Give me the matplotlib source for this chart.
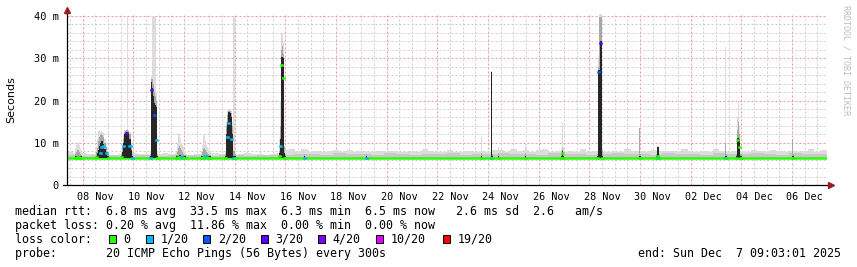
import matplotlib
matplotlib.use("Agg")
import matplotlib.pyplot as plt
from matplotlib.patches import Rectangle
from datetime import datetime, timedelta
import numpy as np

plt.rcParams['font.family'] = ['DejaVu Sans Mono']

# graph covers 30 days ending Sun Dec 7 09:03:01 2025, x values are days since start
start = datetime(2025, 11, 7, 9, 3, 1)
n_days = 30

# background smoke (ms), 6 h steps
light_base = [7.8, 7.6, 7.5, 7.4, 7.3, 7.5, 7.2, 7.2, 7.4, 7.6,
              7.5, 7.3, 7.4, 7.2, 7.3, 7.5, 7.4, 7.6, 7.3, 7.2,
              7.4, 7.3, 7.5, 7.6, 7.4, 7.3, 7.2, 7.3, 7.5, 7.4,
              7.3, 7.2, 7.4, 7.6, 8.4, 8.6, 8.0, 8.5, 7.9, 8.1,
              7.8, 8.0, 8.2, 7.9, 8.2, 7.8, 8.0, 7.7, 7.9, 8.1,
              7.8, 8.0, 7.7, 7.9, 8.1, 7.8, 8.5, 8.0, 7.8, 7.9,
              8.3, 7.9, 7.8, 8.0, 7.9, 8.1, 7.8, 8.2, 8.2, 7.9,
              8.5, 8.0, 8.2, 7.8, 8.4, 8.5, 7.9, 8.0, 7.8, 8.1,
              7.9, 8.5, 7.8, 8.0, 7.9, 7.8, 8.0, 7.9, 8.5, 8.1,
              8.0, 7.9, 8.2, 7.8, 8.0, 8.1, 7.9, 8.6, 8.0, 7.9,
              8.1, 7.9, 8.5, 8.0, 7.8, 8.0, 8.1, 7.9, 8.3, 8.0,
              7.9, 8.4, 8.0, 7.8, 8.1, 7.9, 8.0, 8.5, 7.9, 8.4]
# medium smoke (ms), 12 h steps
mid_base = [7.0, 6.9, 7.0, 7.1, 6.9, 7.0, 7.0, 6.9, 7.1, 7.0,
            7.0, 6.9, 7.0, 7.0, 6.9, 7.0, 7.1, 7.0, 7.3, 7.4,
            7.2, 7.5, 7.3, 7.4, 7.2, 7.6, 7.3, 7.2, 7.4, 7.3,
            7.5, 7.2, 7.4, 7.3, 7.6, 7.4, 7.3, 7.2, 7.5, 7.3,
            7.4, 7.2, 7.3, 7.5, 7.3, 7.4, 7.2, 7.6, 7.3, 7.4,
            7.2, 7.5, 7.3, 7.4, 7.6, 7.3, 7.2, 7.5, 7.3, 7.4]
# median rtt (ms), 12 h steps
med_base = [6.5, 6.5, 6.5, 6.5, 6.5, 6.5, 6.5, 6.5, 6.5, 6.5,
            6.5, 6.5, 6.5, 6.5, 6.5, 6.5, 6.5, 6.5, 6.5, 6.4,
            6.5, 6.5, 6.4, 6.5, 6.5, 6.5, 6.5, 6.5, 6.5, 6.5,
            6.4, 6.5, 6.5, 6.5, 6.5, 6.5, 6.5, 6.5, 6.5, 6.5,
            6.5, 6.5, 6.5, 6.5, 6.5, 6.4, 6.5, 6.5, 6.5, 6.5,
            6.5, 6.5, 6.5, 6.5, 6.5, 6.5, 6.5, 6.5, 6.4, 6.5]

# events, 1 h steps starting at ev_start (days); None = median hidden in the smoke
ev_start = [0.316, 1.145, 2.132, 3.276, 4.303, 5.290, 6.237, 8.369, 9.355, 11.803,
            16.343, 16.737, 17.010, 18.080, 19.501, 20.922, 22.580, 23.251, 25.975,
            26.409, 28.620]
ev_med = [[6.5, 6.5, 6.6, 6.6, 6.5, 6.5, 6.5],
          [6.6, None, None, None, 7.5, 9.0, None, 9.2, None, 7.5, None, 6.5],
          [6.6, None, 9.2, None, None, 12.2, None, None, 9.2, None, 6.5],
          [6.5, 22.5, None, None, 16.5, None, 10.6, 6.5],
          [6.5, 6.5, 6.6, 6.7, 6.6, 6.6, 6.5, 6.5, 6.5],
          [6.5, 6.5, 6.6, 6.8, 6.9, 6.7, 6.5, 6.5, 6.5],
          [6.5, None, 11.4, 14.6, None, None, 11.0, None, 6.5, 6.5],
          [6.8, 9.2, 28.4, None, 25.3, 6.5, 6.5],
          [6.5], [6.5], [6.5], [6.5, 6.5], [6.5], [6.5],
          [6.5, 7.5, 6.5],
          [6.5, 26.8, None, 33.5, None, 6.5],
          [6.5, 6.5],
          [6.5, 6.8, 6.5, 6.5],
          [6.5, 6.5],
          [6.5, 10.6, None, 9.0, 6.5, 6.5],
          [6.5, 6.5]]
ev_loss = [[0, 0, 0, 0, 0, 0, 0],
           [0, 0, 0, 0, 1, 1, 0, 1, 0, 1, 0, 0],
           [0, 0, 1, 0, 0, 3, 0, 0, 1, 0, 1],
           [1, 3, 0, 0, 2, 0, 1, 0],
           [0, 0, 0, 0, 0, 1, 1, 0, 0],
           [0, 0, 0, 0, 1, 1, 0, 0, 0],
           [0, 0, 1, 1, 0, 0, 1, 0, 1, 0],
           [0, 1, 0, 0, 0, 0, 0],
           [1], [1], [0], [1, 0], [0], [0],
           [0, 0, 0],
           [0, 2, 0, 3, 0, 0],
           [0, 0],
           [0, 0, 1, 0],
           [1, 0],
           [0, 0, 0, 0, 0, 0],
           [0, 0]]
ev_dark = [[6.8, 6.8, 6.9, 6.9, 6.8, 6.8, 6.8],
           [6.8, 7.5, 8.3, 9.2, 10.0, 10.5, 10.3, 9.6, 8.5, 7.8, 6.9, 6.8],
           [6.8, 7.8, 10.0, 12.0, 12.3, 12.5, 12.5, 12.3, 11.0, 8.2, 6.8],
           [6.8, 24.5, 23.0, 21.0, 19.5, 19.0, 18.5, 6.8],
           [6.8, 6.8, 6.9, 7.1, 7.0, 6.9, 6.8, 6.8, 6.8],
           [6.8, 6.8, 6.9, 7.0, 6.9, 6.8, 6.8, 6.8, 6.8],
           [6.8, 12.0, 15.0, 17.3, 17.3, 17.0, 16.0, 12.0, 6.8, 6.8],
           [7.5, 11.0, 30.4, 30.4, 30.0, 7.5, 6.8],
           [6.8], [6.8], [6.8], [26.8, 6.8], [6.8], [6.8],
           [6.8, 8.0, 6.8],
           [6.8, 27.2, 27.2, 34.0, 34.0, 6.8],
           [6.8, 6.8],
           [6.8, 9.0, 9.0, 6.8],
           [6.8, 6.8],
           [6.8, 11.1, 11.1, 11.0, 6.8, 6.8],
           [6.8, 6.8]]
ev_mid = [[7.4, 7.8, 8.3, 8.3, 7.8, 7.4, 7.2],
          [7.8, 8.8, 10.3, 11.3, 11.8, 12.0, 11.8, 11.3, 10.0, 9.0, 7.8, 7.4],
          [7.4, 9.0, 11.0, 12.5, 12.8, 13.0, 13.0, 12.8, 12.0, 9.5, 7.4],
          [7.4, 25.0, 25.0, 24.0, 22.0, 21.0, 20.0, 7.4],
          [7.2, 7.8, 8.8, 9.3, 8.8, 8.3, 7.8, 7.4, 7.2],
          [7.2, 7.8, 8.6, 8.8, 8.3, 7.8, 7.5, 7.3, 7.2],
          [7.4, 14.0, 16.5, 17.5, 17.5, 17.5, 17.0, 14.0, 8.0, 7.4],
          [8.0, 14.0, 32.0, 33.0, 31.0, 9.0, 7.4],
          [7.3], [7.3], [7.5], [26.8, 7.4], [7.5], [7.5],
          [7.4, 8.5, 7.4],
          [7.4, 28.0, 39.7, 39.7, 39.7, 8.0],
          [13.5, 7.4],
          [7.4, 9.0, 9.0, 7.4],
          [10.0, 7.4],
          [7.4, 13.0, 15.0, 12.0, 7.4, 7.4],
          [11.0, 7.4]]
ev_light = [[8.7, 9.5, 10.0, 10.2, 9.5, 8.5, 8.0],
            [9.0, 11.0, 12.8, 13.0, 12.5, 12.8, 12.5, 12.2, 11.0, 10.0, 9.0, 8.0],
            [8.0, 10.0, 12.0, 13.0, 13.0, 13.0, 40.0, 13.0, 12.5, 10.0, 8.0],
            [8.0, 26.0, 40.0, 40.0, 40.0, 40.0, 22.0, 8.0],
            [8.0, 10.0, 12.3, 12.0, 11.0, 10.0, 9.5, 9.0, 8.0],
            [8.0, 9.5, 11.8, 11.5, 10.5, 9.5, 9.0, 8.5, 8.0],
            [8.0, 15.0, 17.5, 18.0, 18.0, 18.0, 17.5, 15.0, 40.0, 8.0],
            [11.0, 20.0, 36.0, 36.0, 34.0, 9.5, 8.0],
            [8.0], [8.0], [11.4], [27.0, 8.0], [9.0], [10.0],
            [9.0, 15.0, 9.0],
            [8.0, 30.0, 40.5, 41.0, 40.5, 9.0],
            [13.5, 8.0],
            [8.0, 9.2, 9.2, 8.0],
            [32.7, 8.0],
            [8.0, 16.0, 20.0, 14.0, 8.0, 8.0],
            [11.0, 8.0]]

loss_steps = [0, 1, 2, 3, 4, 10, 19]
loss_labels = ["0", "1/20", "2/20", "3/20", "4/20", "10/20", "19/20"]
loss_colors = ["#26ff00", "#00b8ff", "#0059ff", "#5e00ff", "#7e00ff", "#dd00ff", "#ff0000"]

stats_lines = [
    "median rtt:  6.8 ms avg  33.5 ms max  6.3 ms min  6.5 ms now   2.6 ms sd  2.6   am/s",
    "packet loss: 0.20 % avg  11.86 % max  0.00 % min  0.00 % now",
]
probe_text = "probe:       20 ICMP Echo Pings (56 Bytes) every 300s"
end_text = "end: Sun Dec  7 09:03:01 2025"

smoke_light = "#dcdcdc"
smoke_base_mid = "#c8c8c8"
smoke_mid = "#a8a8a8"
smoke_dark = "#262626"


def loss_color(n):
    c = loss_colors[0]
    for s, col in zip(loss_steps, loss_colors):
        if n >= s:
            c = col
    return c


W, H = 857, 267
fig = plt.figure(figsize=(W / 100, H / 100), dpi=100)
top_ms = 40.6
ax = fig.add_axes([67 / W, 1 - 185 / H, 760 / W, 171.5 / H])
ax.set_xlim(0, n_days)
ax.set_ylim(0, top_ms)

# grid
day = timedelta(days=1)
major_x = [(datetime(2025, 11, 8) + timedelta(days=2 * k) - start) / day for k in range(15)]
half = [(datetime(2025, 11, 7, 12) + timedelta(hours=12 * k) - start) / day for k in range(61)]
dots = (0, (2, 2))
for x in half:
    if min(abs(x - m) for m in major_x) > 0.01:
        ax.axvline(x, color="#cfcfcf", lw=0.72, ls=dots, zorder=1)
for x in major_x:
    ax.axvline(x, color="#ee9a9a", lw=0.72, ls=dots, zorder=1)
for y in range(2, 41, 2):
    if y % 10:
        ax.axhline(y, color="#cfcfcf", lw=0.72, ls=dots, zorder=1)
    else:
        ax.axhline(y, color="#ee9a9a", lw=0.72, ls=dots, zorder=1)

# background smoke and median
base = 6.3
e6 = np.arange(len(light_base) + 1) * 0.25
e12 = np.arange(len(mid_base) + 1) * 0.5
ax.stairs(light_base, e6, baseline=base, fill=True, color=smoke_light, lw=0, zorder=2)
ax.stairs(mid_base, e12, baseline=base, fill=True, color=smoke_base_mid, lw=0, zorder=2)
ax.stairs(med_base, e12, baseline=None, color=loss_colors[0], lw=1.8, zorder=2.5)

# spikes
dt = 1 / 24
for t0, md, ls, dk, mi, li in zip(ev_start, ev_med, ev_loss, ev_dark, ev_mid, ev_light):
    edges = t0 + dt * np.arange(len(md) + 1)
    ax.stairs(li, edges, baseline=base, fill=True, color=smoke_light, lw=0, zorder=3)
    ax.stairs(mi, edges, baseline=base, fill=True, color=smoke_mid, lw=0, zorder=3)
    ax.stairs(dk, edges, baseline=base, fill=True, color=smoke_dark, lw=0, zorder=3)
    keep = [i for i, m in enumerate(md) if m is not None]
    ax.hlines([md[i] for i in keep], edges[keep], edges[[i + 1 for i in keep]],
              colors=[loss_color(ls[i]) for i in keep],
              lw=1.8, zorder=4, capstyle="projecting")

# axes, ticks
for s in ax.spines.values():
    s.set_visible(False)
ax.plot([0, 0], [0, 1.02], transform=ax.transAxes, color="black", lw=0.9,
        clip_on=False, zorder=6)
ax.plot([-4 / 760, 1.004], [0, 0], transform=ax.transAxes, color="black", lw=0.9,
        clip_on=False, zorder=6)
ax.plot([0], [1.0175], transform=ax.transAxes, marker="^", ms=4.2, color="#9b1c1c",
        clip_on=False, zorder=7)
ax.plot([1.0053], [0], transform=ax.transAxes, marker=">", ms=4.2, color="#9b1c1c",
        clip_on=False, zorder=7)

label_x = [m + 0.5 for m in major_x]
label_txt = [(datetime(2025, 11, 8) + timedelta(days=2 * k)).strftime("%d %b") for k in range(15)]
ax.set_xticks(label_x, label_txt)
ax.set_yticks([0, 10, 20, 30, 40], ["0", "10 m", "20 m", "30 m", "40 m"])
ax.tick_params(axis="x", length=0, pad=5, labelsize=7.3, colors="#000000")
ax.tick_params(axis="y", length=0, pad=6, labelsize=7.5, colors="#000000")

fig.text(11 / W, 1 - 100 / H, "Seconds", rotation=90, ha="center", va="center",
         fontsize=8, family="DejaVu Sans")
fig.text(846 / W, 1 - 5 / H, "RRDTOOL / TOBI OETIKER", rotation=270, ha="center",
         va="top", fontsize=6.0, color="#bdbdbd")

# legend
fs = 8.39
for i, line in enumerate(stats_lines):
    fig.text(15.5 / W, 1 - (215 + 14 * i) / H, line, fontsize=fs, va="baseline")
fig.text(15.5 / W, 1 - 243 / H, "loss color:", fontsize=fs, va="baseline")
box_x = [109, 145.7, 203.3, 261, 318.3, 376, 442.7]
for bx, lab, col in zip(box_x, loss_labels, loss_colors):
    fig.patches.append(Rectangle((bx / W, 1 - 243 / H), 7 / W, 8 / H, facecolor=col,
                                 edgecolor="black", lw=0.7, transform=fig.transFigure))
    fig.text((bx + 14.5) / W, 1 - 243 / H, lab, fontsize=fs, va="baseline")
fig.text(15.5 / W, 1 - 257 / H, probe_text, fontsize=fs, va="baseline")
fig.text(841 / W, 1 - 257 / H, end_text, fontsize=fs, va="baseline", ha="right")

fig.savefig("out.png", dpi=100, facecolor="white")
